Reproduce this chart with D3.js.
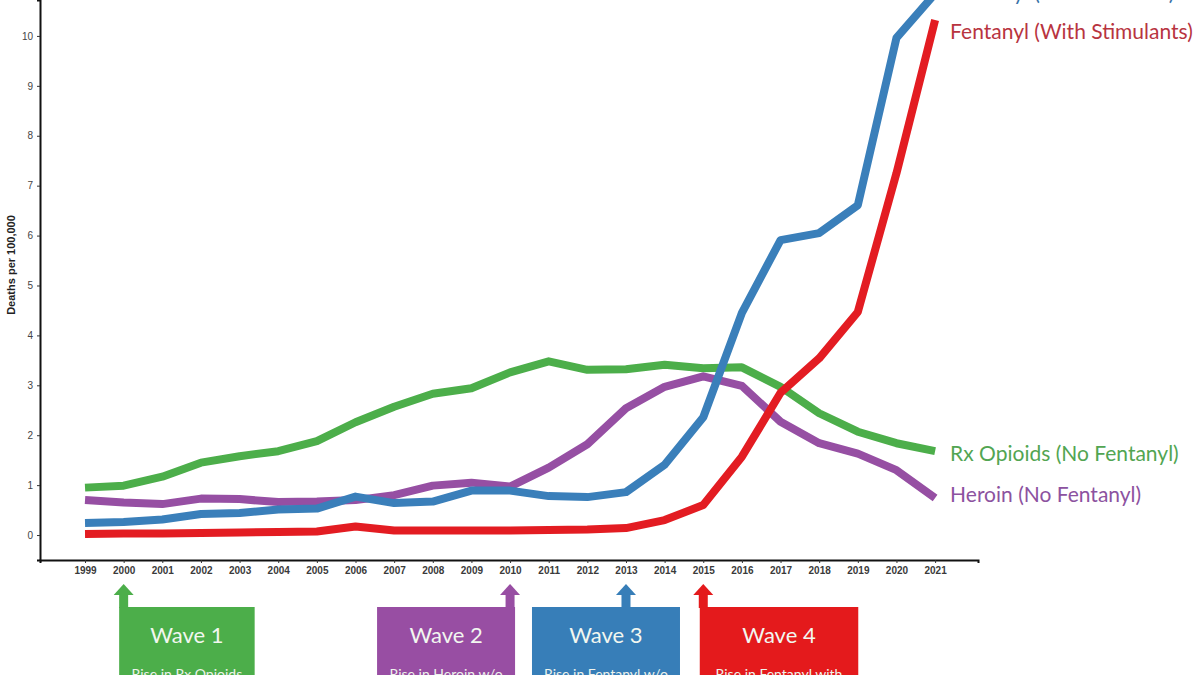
<!DOCTYPE html>
<html>
<head>
<meta charset="utf-8">
<script src="https://cdn.jsdelivr.net/npm/d3@7"></script>
<style>
  html, body { margin: 0; padding: 0; background: #ffffff; }
  svg { display: block; }
</style>
</head>
<body>
<svg id="chart" width="1200" height="675"></svg>
<script>
// ---------------- DATA ----------------
const years = [1999,2000,2001,2002,2003,2004,2005,2006,2007,2008,2009,2010,2011,2012,2013,2014,2015,2016,2017,2018,2019,2020,2021];

const rxOpioids = [0.95,0.99,1.17,1.45,1.58,1.68,1.88,2.26,2.57,2.83,2.94,3.26,3.48,3.31,3.32,3.41,3.34,3.36,2.97,2.44,2.07,1.84,1.68];
const heroin    = [0.70,0.65,0.62,0.73,0.72,0.66,0.67,0.70,0.80,0.99,1.05,0.97,1.35,1.82,2.54,2.97,3.18,2.99,2.27,1.84,1.63,1.30,0.74];
const fentNoStim   = [0.24,0.26,0.31,0.42,0.44,0.51,0.53,0.77,0.64,0.67,0.89,0.89,0.78,0.76,0.86,1.41,2.36,4.45,5.91,6.05,6.61,9.96,10.85];
const fentWithStim = [0.02,0.03,0.03,0.04,0.05,0.06,0.07,0.17,0.09,0.09,0.09,0.09,0.10,0.11,0.14,0.30,0.60,1.57,2.85,3.54,4.47,7.25,10.32];

const seriesNames  = ["Fentanyl (No Stimulants)","Fentanyl (With Stimulants)","Rx Opioids (No Fentanyl)","Heroin (No Fentanyl)"];
const seriesValues = [fentNoStim, fentWithStim, rxOpioids, heroin];
const seriesColors = ["#3a7fba","#e31c22","#4cae4a","#964fa3"];
const labelColors  = ["#3a72a8","#b8343f","#52a552","#8c52a0"];

const yTicks = [0,1,2,3,4,5,6,7,8,9,10];
const yTitle = "Deaths per 100,000";

const waveYears  = [2000, 2010, 2013, 2015];
const waveTitles = ["Wave 1","Wave 2","Wave 3","Wave 4"];
const waveSubs   = ["Rise in Rx Opioids","Rise in Heroin w/o","Rise in Fentanyl w/o","Rise in Fentanyl with"];
const waveColors = ["#4cae4a","#984ea3","#377eb8","#e41a1c"];

// ---------------- LAYOUT ----------------
const svg = d3.select("#chart");
const axisLeftX = 40, axisBottomY = 560, axisRightX = 978;

const x = d3.scaleLinear().domain([1997.835, 2022.11]).range([axisLeftX, axisRightX]);
const y = d3.scaleLinear().domain([-0.5, 10.72]).range([axisBottomY, 0]);

// Axes
const gx = svg.append("g").attr("transform", `translate(0,${axisBottomY})`)
  .call(d3.axisBottom(x).tickValues(years).tickFormat(d3.format("d")).tickSizeOuter(0).tickSize(3).tickPadding(4));
gx.select(".domain").attr("stroke", "#111").attr("stroke-width", 2);
gx.selectAll(".tick line").attr("stroke", "#333").attr("stroke-width", 1);
gx.selectAll(".tick text").attr("font-family", "Liberation Sans, Arial, sans-serif")
  .attr("font-size", 10).attr("font-weight", "bold").attr("fill", "#3a3a3a");

const gy = svg.append("g").attr("transform", `translate(${axisLeftX},0)`)
  .call(d3.axisLeft(y).tickValues(yTicks).tickFormat(d3.format("d")).tickSizeOuter(0).tickSize(3).tickPadding(4));
gy.select(".domain").attr("stroke", "#111").attr("stroke-width", 2);
gy.selectAll(".tick line").attr("stroke", "#333").attr("stroke-width", 1);
gy.selectAll(".tick text").attr("font-family", "Liberation Sans, Arial, sans-serif")
  .attr("font-size", 10).attr("fill", "#444");

svg.append("text")
  .attr("transform", `translate(15,${265}) rotate(-90)`)
  .attr("text-anchor", "middle")
  .attr("font-family", "Liberation Sans, Arial, sans-serif")
  .attr("font-size", 11).attr("font-weight", "bold").attr("fill", "#222")
  .text(yTitle);

// Lines
const line = d3.line().x((d, i) => x(years[i])).y(d => y(d));
// draw order: green, purple, blue, red (red on top near crossings)
const order = [2, 3, 0, 1];
order.forEach(k => {
  svg.append("path")
    .datum(seriesValues[k])
    .attr("d", line)
    .attr("fill", "none")
    .attr("stroke", seriesColors[k])
    .attr("stroke-width", 8)
    .attr("stroke-linejoin", "round")
    .attr("stroke-linecap", "butt");
});

// End labels
const labelOffsets = [-1, 12, 2, -3];
seriesNames.forEach((name, k) => {
  const vals = seriesValues[k];
  svg.append("text")
    .attr("x", x(years[years.length - 1]) + 15)
    .attr("y", y(vals[vals.length - 1]) + labelOffsets[k])
    .attr("dy", "0.35em")
    .attr("font-family", "Lato, 'Open Sans', sans-serif")
    .attr("font-size", 21)
    .attr("fill", labelColors[k])
    .text(name);
});

// Wave annotation boxes (box extents relative to arrow tip)
const boxLayout = [
  {left: -4.5, right: 131},
  {left: -133, right: 5},
  {left: -94, right: 54},
  {left: -3.5, right: 155}
];
const tipY = 584, headBaseY = 595, boxTop = 607, boxBottom = 690;
waveYears.forEach((yr, i) => {
  const tx = x(yr);
  const g = svg.append("g");
  const col = waveColors[i];
  const bl = tx + boxLayout[i].left, br = tx + boxLayout[i].right;
  g.append("rect").attr("x", bl).attr("y", boxTop).attr("width", br - bl).attr("height", boxBottom - boxTop).attr("fill", col);
  g.append("rect").attr("x", tx - 4.5).attr("y", headBaseY - 1).attr("width", 9).attr("height", boxTop - headBaseY + 2).attr("fill", col);
  g.append("path").attr("d", `M${tx},${tipY} L${tx + 10},${headBaseY} L${tx - 10},${headBaseY} Z`).attr("fill", col);
  const cx = (bl + br) / 2;
  g.append("text").attr("x", cx).attr("y", 635).attr("dy", "0.35em")
    .attr("text-anchor", "middle")
    .attr("font-family", "Lato, 'Open Sans', sans-serif")
    .attr("font-size", 22).attr("fill", "#f2f7f0")
    .text(waveTitles[i]);
  g.append("text").attr("x", cx).attr("y", 679)
    .attr("text-anchor", "middle")
    .attr("font-family", "Lato, 'Open Sans', sans-serif")
    .attr("font-size", 14).attr("fill", "#eef3ec")
    .text(waveSubs[i]);
});
</script>
</body>
</html>
